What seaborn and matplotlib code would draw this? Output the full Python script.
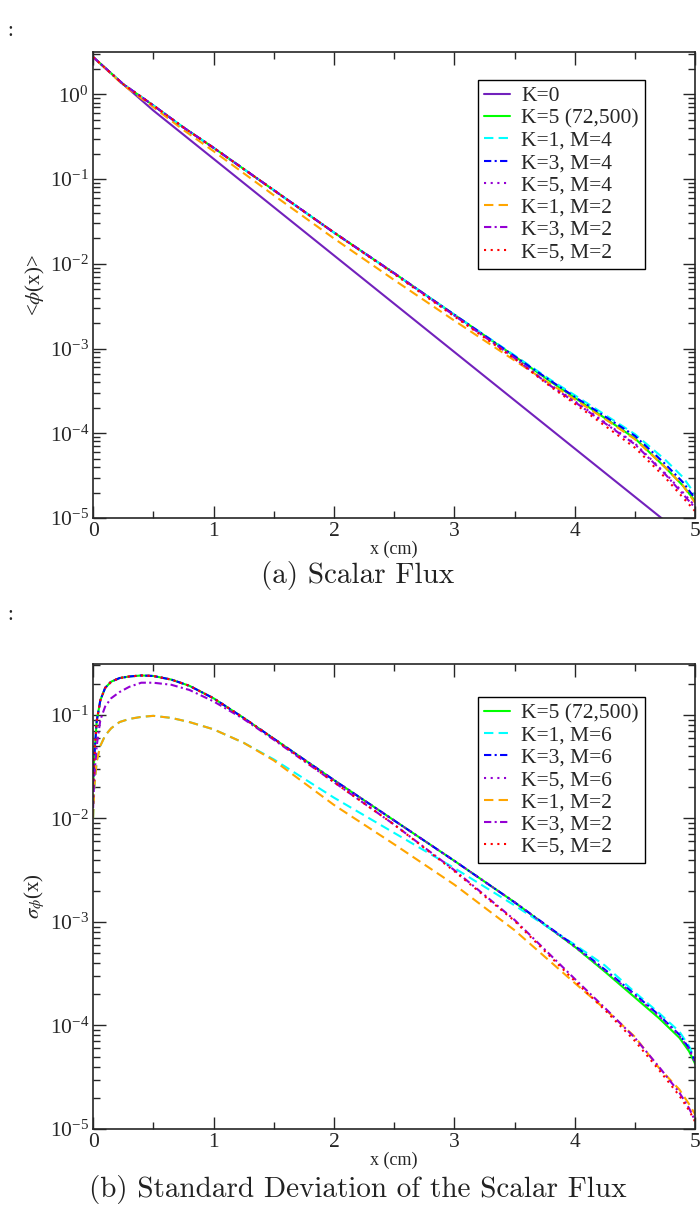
import numpy as np
import pandas as pd
import matplotlib
matplotlib.use("Agg")
import matplotlib.pyplot as plt
import seaborn as sns
from matplotlib.ticker import LogLocator, MultipleLocator, NullFormatter, LogFormatterSciNotation

# ---- panel (a): scalar flux, values are log10 ----
flux_x = [0, 0.25, 0.5, 0.75, 1.0, 1.5, 2.0, 2.5, 3.0, 3.5, 3.8, 4.0, 4.25, 4.5, 4.75, 4.9, 5.0]
flux_k0_x = [0, 0.25, 0.5, 1.0, 2.0, 3.0, 4.0, 4.72, 5.0]
flux_k0 = [0.44, 0.12, -0.19, -0.76, -1.90, -3.04, -4.18, -5.0, -5.32]
flux_k5_ref = [0.44, 0.12, -0.13, -0.39, -0.63, -1.13, -1.63, -2.11, -2.60, -3.09, -3.39, -3.58, -3.82, -4.06, -4.40, -4.62, -4.80]
flux_k1_m4 = [0.44, 0.12, -0.13, -0.39, -0.63, -1.13, -1.63, -2.11, -2.60, -3.08, -3.37, -3.55, -3.78, -4.01, -4.31, -4.52, -4.72]
flux_k3_m4 = [0.44, 0.12, -0.13, -0.39, -0.63, -1.13, -1.63, -2.11, -2.60, -3.09, -3.38, -3.57, -3.80, -4.03, -4.36, -4.58, -4.77]
flux_k5_m4 = [0.44, 0.12, -0.13, -0.39, -0.63, -1.13, -1.63, -2.11, -2.61, -3.11, -3.43, -3.62, -3.87, -4.12, -4.47, -4.70, -4.86]
flux_k1_m2 = [0.44, 0.11, -0.15, -0.42, -0.67, -1.19, -1.70, -2.19, -2.67, -3.14, -3.42, -3.60, -3.83, -4.07, -4.40, -4.62, -4.82]
flux_k3_m2 = [0.44, 0.12, -0.13, -0.39, -0.63, -1.13, -1.63, -2.11, -2.61, -3.11, -3.44, -3.63, -3.88, -4.13, -4.48, -4.72, -4.88]
flux_k5_m2 = [0.44, 0.12, -0.13, -0.39, -0.63, -1.13, -1.63, -2.12, -2.62, -3.12, -3.45, -3.65, -3.91, -4.17, -4.52, -4.76, -4.92]

# ---- panel (b): standard deviation of the scalar flux (log10) ----
sd_x = [0, 0.01, 0.03, 0.06, 0.1, 0.15, 0.22, 0.3, 0.4, 0.5, 0.65, 0.8, 1.0, 1.25, 1.5,
        2.0, 2.5, 3.0, 3.5, 4.0, 4.25, 4.5, 4.7, 4.87, 4.95, 5.0]
sd_k5_ref = [-1.7, -1.4, -1.06, -0.86, -0.74, -0.68, -0.645, -0.63, -0.62, -0.625, -0.66, -0.72, -0.84, -1.03, -1.23,
             -1.63, -2.02, -2.41, -2.81, -3.24, -3.48, -3.73, -3.93, -4.12, -4.25, -4.37]
sd_k1_m6 = [-2.0, -1.7, -1.45, -1.3, -1.2, -1.13, -1.07, -1.04, -1.02, -1.01, -1.03, -1.07, -1.14, -1.27, -1.43,
            -1.80, -2.14, -2.48, -2.84, -3.22, -3.42, -3.68, -3.88, -4.06, -4.20, -4.33]
sd_k3_m6 = [-1.7, -1.4, -1.06, -0.86, -0.74, -0.68, -0.645, -0.63, -0.62, -0.625, -0.66, -0.72, -0.84, -1.03, -1.23,
            -1.63, -2.02, -2.41, -2.81, -3.23, -3.46, -3.70, -3.90, -4.09, -4.22, -4.35]
sd_k5_m6 = [-1.7, -1.4, -1.06, -0.86, -0.74, -0.68, -0.645, -0.63, -0.62, -0.625, -0.66, -0.72, -0.84, -1.03, -1.23,
            -1.63, -2.02, -2.41, -2.81, -3.24, -3.47, -3.71, -3.91, -4.10, -4.23, -4.36]
sd_k1_m2 = [-2.0, -1.7, -1.45, -1.3, -1.2, -1.13, -1.07, -1.04, -1.02, -1.01, -1.03, -1.07, -1.14, -1.27, -1.44,
            -1.87, -2.25, -2.64, -3.08, -3.59, -3.84, -4.11, -4.41, -4.62, -4.76, -4.86]
sd_k3_m2 = [-1.9, -1.6, -1.3, -1.05, -0.92, -0.84, -0.78, -0.73, -0.69, -0.69, -0.71, -0.76, -0.87, -1.04, -1.24,
            -1.65, -2.06, -2.50, -2.98, -3.55, -3.83, -4.12, -4.40, -4.65, -4.80, -4.92]
sd_k5_m2 = [-1.7, -1.4, -1.06, -0.86, -0.74, -0.68, -0.645, -0.63, -0.62, -0.625, -0.66, -0.72, -0.84, -1.03, -1.23,
            -1.65, -2.06, -2.51, -2.99, -3.57, -3.85, -4.15, -4.43, -4.68, -4.82, -4.93]

indigo = '#7221bc'
violet = '#9400d3'
dash = (0, (4.5, 2.5))
dashdot = (0, (3.5, 1.6, 1.0, 1.6))
dot = (0, (1.0, 2.2))

top_series = [
    ('K=0', flux_k0_x, flux_k0, indigo, '-'),
    ('K=5 (72,500)', flux_x, flux_k5_ref, '#00ff00', '-'),
    ('K=1, M=4', flux_x, flux_k1_m4, '#00ffff', dash),
    ('K=3, M=4', flux_x, flux_k3_m4, '#0000ff', dashdot),
    ('K=5, M=4', flux_x, flux_k5_m4, violet, dot),
    ('K=1, M=2', flux_x, flux_k1_m2, '#ffa500', dash),
    ('K=3, M=2', flux_x, flux_k3_m2, violet, dashdot),
    ('K=5, M=2', flux_x, flux_k5_m2, '#ff0000', dot),
]
bottom_series = [
    ('K=5 (72,500)', sd_x, sd_k5_ref, '#00ff00', '-'),
    ('K=1, M=6', sd_x, sd_k1_m6, '#00ffff', dash),
    ('K=3, M=6', sd_x, sd_k3_m6, '#0000ff', dashdot),
    ('K=5, M=6', sd_x, sd_k5_m6, violet, dot),
    ('K=1, M=2', sd_x, sd_k1_m2, '#ffa500', dash),
    ('K=3, M=2', sd_x, sd_k3_m2, violet, dashdot),
    ('K=5, M=2', sd_x, sd_k5_m2, '#ff0000', dot),
]

sns.set_style("ticks")
plt.rcParams['font.family'] = ['Liberation Serif', 'DejaVu Serif']
plt.rcParams['mathtext.fontset'] = 'stix'

fig = plt.figure(figsize=(7, 12.18), dpi=100)
ax1 = fig.add_axes([0.133, 0.5747, 0.86, 0.3826])
ax2 = fig.add_axes([0.133, 0.0731, 0.86, 0.3818])


def draw(ax, series, ytop, anchor):
    for label, xs, logs, color, ls in series:
        sns.lineplot(x=xs, y=10 ** np.array(logs), ax=ax, color=color, linestyle=ls,
                     linewidth=1.5, label=label, errorbar=None)
    ax.set_yscale('log')
    ax.set_xlim(0, 5)
    ax.set_ylim(1e-5, ytop)
    ax.xaxis.set_major_locator(MultipleLocator(1))
    ax.xaxis.set_minor_locator(MultipleLocator(0.5))
    ax.yaxis.set_major_locator(LogLocator(base=10, numticks=12))
    ax.yaxis.set_major_formatter(LogFormatterSciNotation())
    ax.yaxis.set_minor_locator(LogLocator(base=10, subs=np.arange(2, 10), numticks=12))
    ax.yaxis.set_minor_formatter(NullFormatter())
    ax.tick_params(which='both', direction='in', top=True, right=True, width=1, labelsize=15.5)
    ax.tick_params(which='major', length=9, pad=3)
    ax.tick_params(which='minor', length=5)
    for s in ax.spines.values():
        s.set_linewidth(1.2)
    ax.set_xlabel('x (cm)', fontsize=13, labelpad=0)
    leg = ax.legend(loc='upper right', bbox_to_anchor=anchor, fontsize=15.5, frameon=True,
                    fancybox=False, edgecolor='black', framealpha=1, handlelength=1.2,
                    handletextpad=0.5, labelspacing=0.1, borderpad=0.3, borderaxespad=0)
    leg.get_frame().set_linewidth(1.0)


draw(ax1, top_series, 10 ** 0.5, (0.917, 0.94))
draw(ax2, bottom_series, 0.31, (0.917, 0.929))

ax1.set_ylabel(r'<$\phi$(x)>', fontsize=15, labelpad=2)
ax2.set_ylabel(r'$\sigma_{\phi}$(x)', fontsize=15, labelpad=2)

fig.text(10 / 700, 1 - 32 / 1218, ':', fontsize=15, ha='center', va='center')
fig.text(10 / 700, 1 - 615 / 1218, ':', fontsize=15, ha='center', va='center')
fig.text(358 / 700, 1 - 576 / 1218, '(a) Scalar Flux', fontfamily='cmr10', fontsize=21,
         ha='center', va='center', color='#222222')
fig.text(358 / 700, 1 - 1190 / 1218, '(b) Standard Deviation of the Scalar Flux', fontfamily='cmr10',
         fontsize=21, ha='center', va='center', color='#222222')

fig.savefig('out.png', dpi=100)
